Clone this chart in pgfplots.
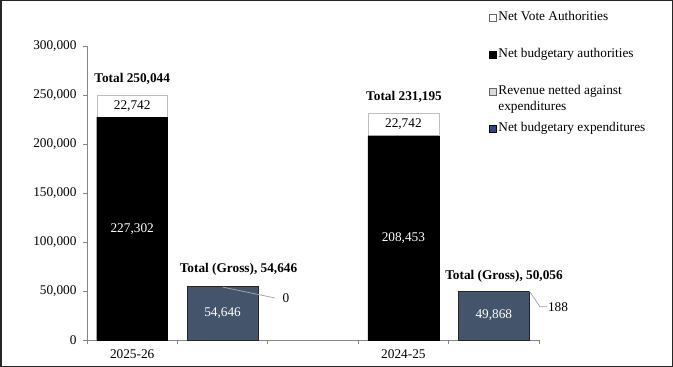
\documentclass[border=0pt]{standalone}
\usepackage{pgfplots}
\pgfplotsset{compat=1.18}
\usepackage{fontspec}
\setmainfont{Liberation Serif}
\definecolor{slate}{HTML}{44546A}
\definecolor{revgray}{HTML}{D9D9D9}
\definecolor{outl}{HTML}{BFBFBF}
\definecolor{axgray}{HTML}{868686}
\newcommand{\fs}{\fontsize{13.3bp}{16bp}\selectfont}
\pgfplotsset{base/.style={
  scale only axis, width=452bp, height=294bp,
  at={(87bp,27bp)}, anchor=south west,
  xmin=-0.5, xmax=4.5, ymin=0, ymax=300000,
  bar width=0.785,
  axis x line*=bottom, axis y line*=left,
  axis line style={axgray, line width=0.75bp},
  tick style={axgray, line width=0.75bp},
  tick align=outside, major tick length=4bp,
  clip=false,
}}
\begin{document}
\begin{tikzpicture}
% axis 1: authorities
\begin{axis}[base, ybar stacked,
  ytick={0,50000,100000,150000,200000,250000,300000},
  scaled y ticks=false,
  yticklabel style={font=\fs, xshift=-3bp, /pgf/number format/.cd, fixed, 1000 sep={,}, assume math mode=true},
  xtick={-0.5,0.5,1.5,2.5,3.5,4.5}, xticklabels={},
  extra x ticks={0,3}, extra x tick labels={2025-26,2024-25},
  extra x tick style={major tick length=0pt, tick label style={font=\fs, yshift=-6bp}},
]
\addplot[fill=black, draw=black] coordinates {(0,227302) (3,208453)};
\addplot[fill=white, draw=outl] coordinates {(0,22742) (3,22742)};
\end{axis}
% axis 2: expenditures
\begin{axis}[base, ybar stacked, hide axis,
  legend image code/.code={\draw[#1] (0bp,-3.5bp) rectangle (7bp,3.5bp);},
  legend cell align=left,
  legend style={draw=none, fill=none, at={(0.889,1.122)}, anchor=north west,
    inner sep=0pt, row sep=22.5bp, column sep=1bp,
    nodes={inner sep=1bp, text height=9.5bp, text depth=3bp, font=\fs}},
]
\addplot[fill=slate, draw=black!85, forget plot] coordinates {(1,54646) (4,49868)};
\addplot[fill=revgray, draw=none, forget plot] coordinates {(1,0) (4,188)};
\addlegendimage{fill=white, draw=black!60}
\addlegendentry{Net Vote Authorities}
\addlegendimage{fill=black, draw=black}
\addlegendentry{Net budgetary authorities}
\addlegendimage{fill=revgray, draw=black!60}
\addlegendentry{\begin{tabular}[t]{@{}l@{}}Revenue netted against\\expenditures\end{tabular}}
\addlegendimage{fill=slate!80!blue, draw=black}
\addlegendentry{Net budgetary expenditures}
\end{axis}
% axis 3: labels on top
\begin{axis}[base, hide axis]
\node[font=\fs, text=white] at (axis cs:0,113651) {227,302};
\node[font=\fs] at (axis cs:0,238673) {22,742};
\node[font=\fs, text=white] at (axis cs:3,104226) {208,453};
\node[font=\fs] at (axis cs:3,219824) {22,742};
\node[font=\fs, text=white] at (axis cs:1,27323) {54,646};
\node[font=\fs, text=white] at (axis cs:4,24934) {49,868};
\node[font=\fs\bfseries] at (axis cs:0,266300) {Total 250,044};
\node[font=\fs\bfseries] at (axis cs:3.007,248000) {Total 231,195};
\node[font=\fs\bfseries] at (axis cs:1.176,72450) {Total (Gross), 54,646};
\node[font=\fs\bfseries] at (axis cs:4.113,65300) {Total (Gross), 50,056};
\draw[black!35, line width=0.75bp] (axis cs:1.0,54000) -- (axis cs:1.58,42857);
\node[font=\fs] at (axis cs:1.70,42857) {0};
\draw[black!35, line width=0.75bp] (axis cs:4.3925,50056) -- (axis cs:4.51,34000) -- (axis cs:4.59,34000);
\node[font=\fs] at (axis cs:4.71,34000) {188};
\end{axis}
\draw[line width=1.5bp, black!85] (0.75bp,0.75bp) rectangle (672.25bp,366.25bp);
\pgfresetboundingbox
\useasboundingbox (0,0) rectangle (673bp,367bp);
\end{tikzpicture}
\end{document}
